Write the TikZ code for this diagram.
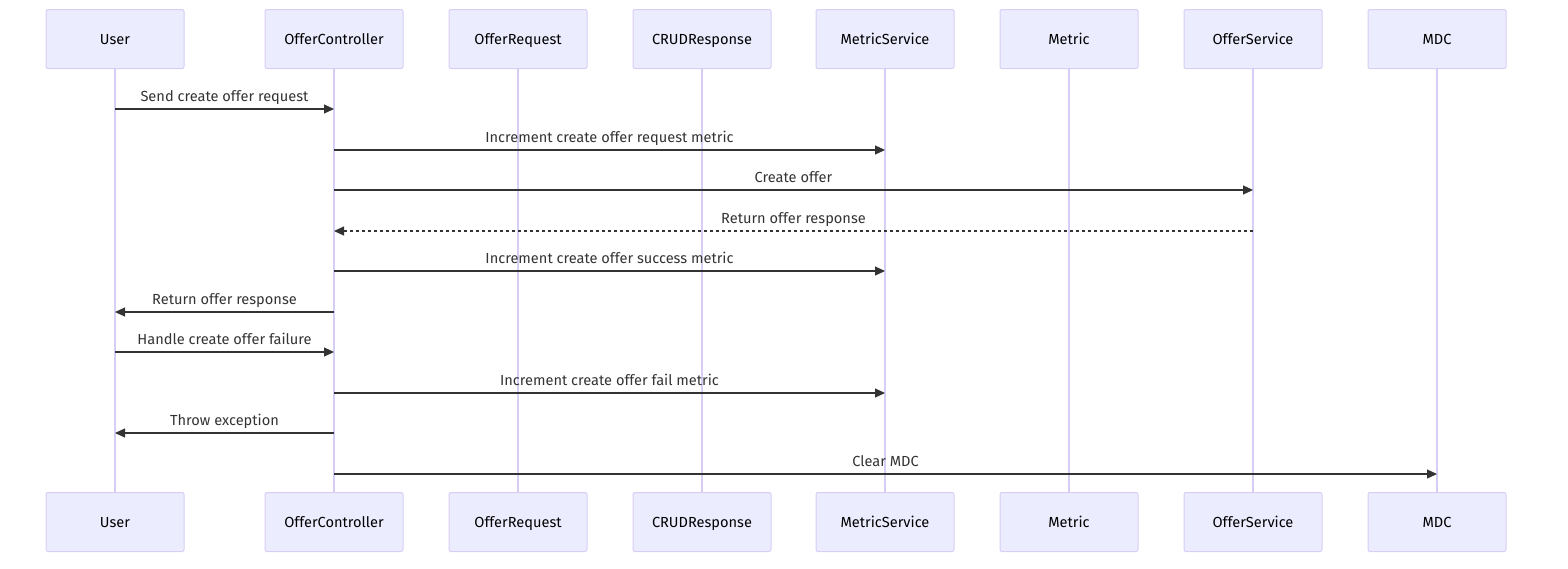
\documentclass[tikz,border=0pt]{standalone}
\usepackage{fontspec}
\setmainfont{Fira Sans}
\usetikzlibrary{arrows.meta}
\definecolor{actfill}{HTML}{ECECFF}
\definecolor{actline}{HTML}{D7CDF5}
\definecolor{msgline}{HTML}{333333}
\tikzset{
 actor/.style={draw=actline, fill=actfill, line width=1pt, rounded corners=2pt,
   minimum width=138pt, minimum height=59pt, inner sep=0pt,
   text height=1.34em, text depth=0.2em,
   font=\fontsize{14.6}{17}\selectfont},
 lifeline/.style={draw=actline, line width=1.6pt},
 msg/.style={draw=msgline, line width=1.1pt, -{Triangle[length=10pt,width=9pt]}},
 reply/.style={msg, dash pattern=on 3pt off 3pt},
 msglabel/.style={text=msgline, anchor=base, yshift=8pt,
   font=\fontsize{14.6}{17}\selectfont},
}

\begin{document}
\begin{tikzpicture}[x=1pt, y=-1pt]
        \useasboundingbox (0,0) rectangle (1568,568);

        % participants, top and bottom
        \foreach \name/\x [count=\i] in {User/115, OfferController/334, OfferRequest/518,
            CRUDResponse/702, MetricService/885, Metric/1069, OfferService/1253, MDC/1437} {
            \node[actor] (t\i) at (\x, 39) {\name};
            \node[actor] (b\i) at (\x, 522) {\name};
            \draw[lifeline] (t\i) -- (b\i);
        }

        % messages
        \foreach \f/\t/\y/\txt/\kind [count=\i] in {
            1/2/109/Send create offer request/msg,
            2/5/150/Increment create offer request metric/msg,
            2/7/190/Create offer/msg,
            7/2/231/Return offer response/reply,
            2/5/271/Increment create offer success metric/msg,
            2/1/312/Return offer response/msg,
            1/2/352/Handle create offer failure/msg,
            2/5/393/Increment create offer fail metric/msg,
            2/1/433/Throw exception/msg,
            2/8/474/Clear MDC/msg} {
            \coordinate (s\i) at (t\f |- 0,\y);
            \coordinate (e\i) at (t\t |- 0,\y);
            \draw[\kind] (s\i) -- node[msglabel] {\txt} (e\i);
        }
    \end{tikzpicture}
\end{document}
